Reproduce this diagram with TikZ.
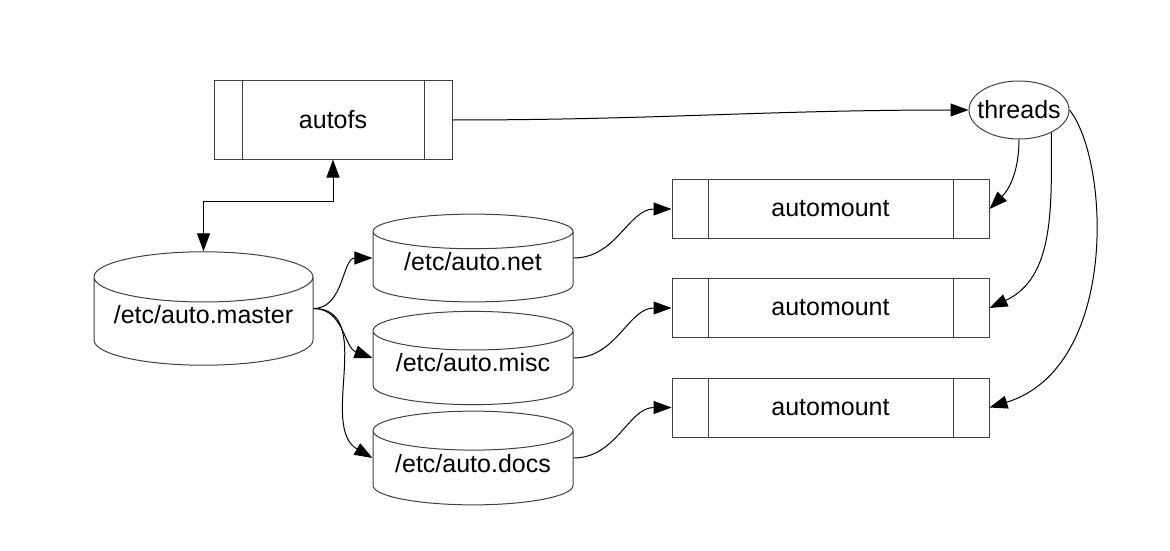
\documentclass[tikz,border=0pt]{standalone}
\usepackage{fontspec}
\setmainfont{Liberation Sans}
\usetikzlibrary{arrows.meta,shapes.geometric}

\begin{document}
\begin{tikzpicture}[
  x=1pt,
  y=1pt,
  font=\fontsize{25}{30}\selectfont,
  procbox/.style={draw=black!75, line width=1pt, minimum height=59pt,
    path picture={
      \draw[black!75, line width=1pt]
        ([xshift=#1]path picture bounding box.north west) --
        ([xshift=#1]path picture bounding box.south west)
        ([xshift=-#1]path picture bounding box.north east) --
        ([xshift=-#1]path picture bounding box.south east);}},
  mountbox/.style={procbox=36pt, minimum width=317pt},
  mapfile/.style={cylinder, shape border rotate=90, draw=black!75,
    line width=1pt, aspect=0.24, minimum width=200pt, minimum height=85pt,
    text depth=15pt, anchor=shape center},
  worker/.style={ellipse, draw=black!75, line width=1pt, inner sep=0pt,
    minimum width=100pt, minimum height=58pt},
  arrow/.style={-{Triangle[length=18pt,width=13pt]}, line width=1pt},
  twoway/.style={{Triangle[length=18pt,width=13pt]}-{Triangle[length=18pt,width=13pt]},
    line width=1pt}
]
  \useasboundingbox (0,0) rectangle (1170,-551);

  \node[procbox=28pt, minimum width=238pt, minimum height=78pt] (autofs) at (333,-120) {autofs};
  \node[worker] (threads) at (1019,-110) {\makebox[62pt]{threads}};

  \node[mapfile, minimum width=219pt, minimum height=104pt, aspect=0.27,
    text depth=19pt] (master) at (203.5,-308.5) {/etc/auto.master};
  \node[mapfile] (net) at (473,-258) {/etc/auto.net};
  \node[mapfile] (misc) at (473,-358) {/etc/auto.misc};
  \node[mapfile] (docs) at (473,-458) {/etc/auto.docs};

  \node[mountbox] (mount1) at (830.5,-209) {automount};
  \node[mountbox] (mount2) at (830.5,-308) {automount};
  \node[mountbox] (mount3) at (830.5,-407.5) {automount};

  \draw[twoway] (master.north) -- ++(0,50) -| (autofs.south);
  \draw[arrow] (autofs.east) to[out=0, in=180] (threads.west);

  \draw[arrow] (master.shape center -| master.east) to[out=0, in=180] (net.shape center -| net.west);
  \draw[arrow] (master.shape center -| master.east) to[out=0, in=160] (misc.shape center -| misc.west);
  \draw[arrow] (master.shape center -| master.east) to[out=0, in=150] (docs.shape center -| docs.west);

  \draw[arrow] (net.shape center -| net.east) to[out=0, in=180] (mount1.west);
  \draw[arrow] (misc.shape center -| misc.east) to[out=0, in=180] (mount2.west);
  \draw[arrow] (docs.shape center -| docs.east) to[out=0, in=180] (mount3.west);

  \draw[arrow] (threads.south) to[out=-90, in=45] (mount1.east);
  \draw[arrow] (threads.-35) to[out=-90, in=25] (mount2.east);
  \draw[arrow] (threads.east) .. controls +(40,-50) and +(130,40) .. (mount3.east);
\end{tikzpicture}
\end{document}
